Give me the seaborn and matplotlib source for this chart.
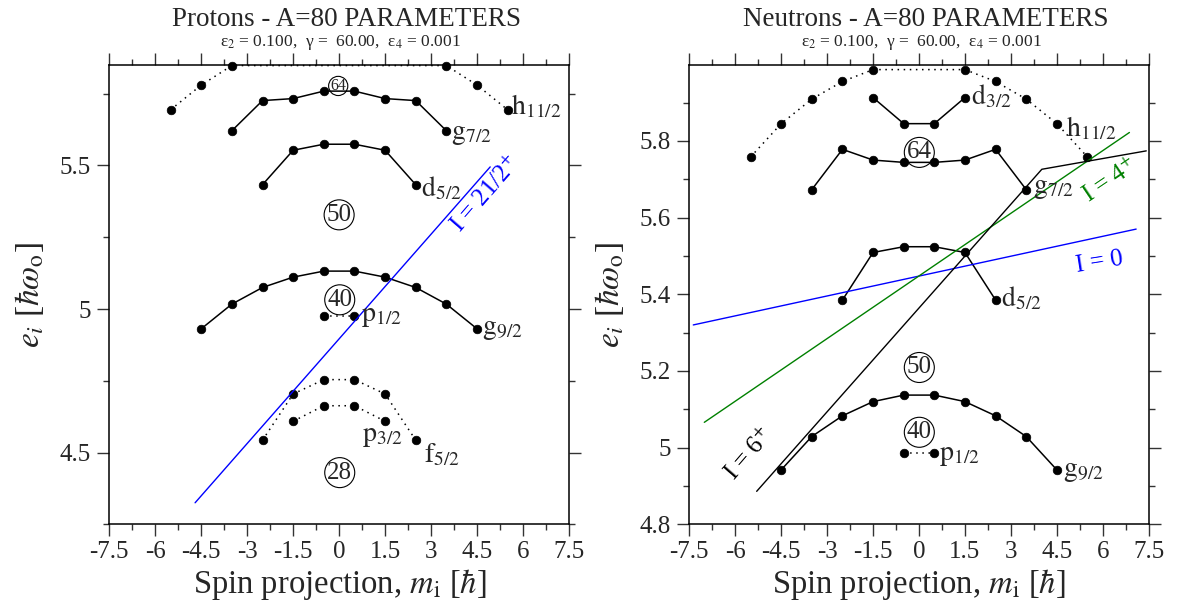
import numpy as np
import pandas as pd
import matplotlib
matplotlib.use("Agg")
import matplotlib.pyplot as plt
from matplotlib.ticker import FixedLocator, MultipleLocator
import seaborn as sns

# ---------------- data : protons ----------------
p_m_h11 = [-5.5, -4.5, -3.5, 3.5, 4.5, 5.5]
p_e_h11 = [5.694, 5.780, 5.848, 5.848, 5.780, 5.694]
p_m_g72 = [-3.5, -2.5, -1.5, -0.5, 0.5, 1.5, 2.5, 3.5]
p_e_g72 = [5.621, 5.726, 5.733, 5.759, 5.759, 5.733, 5.726, 5.621]
p_m_d52 = [-2.5, -1.5, -0.5, 0.5, 1.5, 2.5]
p_e_d52 = [5.433, 5.553, 5.574, 5.574, 5.553, 5.433]
p_m_g92 = [-4.5, -3.5, -2.5, -1.5, -0.5, 0.5, 1.5, 2.5, 3.5, 4.5]
p_e_g92 = [4.931, 5.017, 5.075, 5.111, 5.132, 5.132, 5.111, 5.075, 5.017, 4.931]
p_m_p12 = [-0.5, 0.5]
p_e_p12 = [4.977, 4.977]
p_m_p32 = [-1.5, -0.5, 0.5, 1.5]
p_e_p32 = [4.609, 4.663, 4.663, 4.609]
p_m_f52 = [-2.5, -1.5, -0.5, 0.5, 1.5, 2.5]
p_e_f52 = [4.543, 4.704, 4.754, 4.754, 4.704, 4.543]
p_m_I21 = [-4.70, 4.93]
p_e_I21 = [4.325, 5.495]

# ---------------- data : neutrons ----------------
n_m_h11 = [-5.5, -4.5, -3.5, -2.5, -1.5, 1.5, 2.5, 3.5, 4.5, 5.5]
n_e_h11 = [5.758, 5.845, 5.909, 5.955, 5.986, 5.986, 5.955, 5.909, 5.845, 5.758]
n_m_d32 = [-1.5, -0.5, 0.5, 1.5]
n_e_d32 = [5.913, 5.845, 5.845, 5.913]
n_m_g72 = [-3.5, -2.5, -1.5, -0.5, 0.5, 1.5, 2.5, 3.5]
n_e_g72 = [5.673, 5.778, 5.750, 5.744, 5.744, 5.750, 5.778, 5.673]
n_m_d52 = [-2.5, -1.5, -0.5, 0.5, 1.5, 2.5]
n_e_d52 = [5.385, 5.509, 5.524, 5.524, 5.509, 5.385]
n_m_g92 = [-4.5, -3.5, -2.5, -1.5, -0.5, 0.5, 1.5, 2.5, 3.5, 4.5]
n_e_g92 = [4.942, 5.029, 5.083, 5.120, 5.137, 5.137, 5.120, 5.083, 5.029, 4.942]
n_m_p12 = [-0.5, 0.5]
n_e_p12 = [4.985, 4.985]
n_m_I0 = [-7.37, 7.09]
n_e_I0 = [5.320, 5.570]
n_m_I4 = [-7.01, 6.87]
n_e_I4 = [5.066, 5.822]
n_m_I6 = [-5.30, 4.01, 7.42]
n_e_I6 = [4.886, 5.726, 5.774]

# ---------------- ticks / labels ----------------
x_ticks = [-7.5, -6, -4.5, -3, -1.5, 0, 1.5, 3, 4.5, 6, 7.5]
x_ticklabels = ["-7.5", "-6", "-4.5", "-3", "-1.5", "0", "1.5", "3", "4.5", "6", "7.5"]
p_y_ticks = [4.5, 5.0, 5.5]
p_y_ticklabels = ["4.5", "5", "5.5"]
n_y_ticks = [4.8, 5.0, 5.2, 5.4, 5.6, 5.8]
n_y_ticklabels = ["4.8", "5", "5.2", "5.4", "5.6", "5.8"]

sns.set_style("ticks")
plt.rcParams["font.family"] = ["Liberation Serif", "DejaVu Serif"]
plt.rcParams["mathtext.fontset"] = "stix"
plt.rcParams["axes.unicode_minus"] = False

fig = plt.figure(figsize=(11.78, 6.12), dpi=100)
axL = fig.add_axes([0.09278, 0.1433, 0.3902, 0.7505])
axR = fig.add_axes([0.58514, 0.1433, 0.3900, 0.7505])

DOT = (0, (1, 3))


def level(ax, m, e, ls):
    sns.lineplot(x=m, y=e, ax=ax, color="black", lw=1.1, linestyle=ls,
                 marker="o", markersize=6.2, markeredgecolor="black",
                 markeredgewidth=0.5, markerfacecolor="black",
                 clip_on=False, sort=False, estimator=None, legend=False)


def sline(ax, m, e, color):
    sns.lineplot(x=m, y=e, ax=ax, color=color, lw=1.0, sort=False,
                 estimator=None, legend=False)


def orb(ax, m, e, letter, sub, fs=20):
    ax.text(m, e, r"$\mathrm{%s}_{%s}$" % (letter, sub), ha="left",
            va="center", fontsize=fs)


def magic(ax, m, e, txt, fs=18):
    ax.text(m, e, txt, ha="center", va="center", fontsize=fs,
            bbox=dict(boxstyle="circle,pad=0.1", fc="none", ec="black", lw=0.8))


# ---- protons ----
level(axL, p_m_h11, p_e_h11, DOT)
level(axL, p_m_g72, p_e_g72, "-")
level(axL, p_m_d52, p_e_d52, "-")
level(axL, p_m_g92, p_e_g92, "-")
level(axL, p_m_p12, p_e_p12, DOT)
level(axL, p_m_p32, p_e_p32, DOT)
level(axL, p_m_f52, p_e_f52, DOT)
sline(axL, p_m_I21, p_e_I21, "#0000ff")

orb(axL, 5.62, 5.705, "h", "11/2")
orb(axL, 3.65, 5.608, "g", "7/2")
orb(axL, 2.66, 5.42, "d", "5/2")
orb(axL, 0.70, 4.975, "p", "1/2")
orb(axL, 4.66, 4.93, "g", "9/2")
orb(axL, 0.75, 4.555, "p", "3/2")
orb(axL, 2.76, 4.49, "f", "5/2")
magic(axL, -0.03, 5.777, "64", fs=11.5)
magic(axL, 0.0, 5.328, "50")
magic(axL, 0.02, 5.032, "40")
magic(axL, 0.02, 4.43, "28")
axL.text(4.78, 5.40, r"I = 21/2$^{+}$", color="#0000ff", fontsize=18,
         rotation=49, ha="center", va="center", rotation_mode="anchor")

# ---- neutrons ----
level(axR, n_m_h11, n_e_h11, DOT)
level(axR, n_m_d32, n_e_d32, "-")
level(axR, n_m_g72, n_e_g72, "-")
level(axR, n_m_d52, n_e_d52, "-")
level(axR, n_m_g92, n_e_g92, "-")
level(axR, n_m_p12, n_e_p12, DOT)
sline(axR, n_m_I0, n_e_I0, "#0000ff")
sline(axR, n_m_I4, n_e_I4, "#008000")
sline(axR, n_m_I6, n_e_I6, "black")

orb(axR, 1.69, 5.915, "d", "3/2")
orb(axR, 4.80, 5.832, "h", "11/2")
orb(axR, 3.71, 5.675, "g", "7/2")
orb(axR, 2.67, 5.389, "d", "5/2")
orb(axR, 0.66, 4.979, "p", "1/2")
orb(axR, 4.69, 4.938, "g", "9/2")
magic(axR, 0.01, 5.770, "64")
magic(axR, 0.01, 5.209, "50")
magic(axR, 0.01, 5.040, "40")
axR.text(5.91, 5.484, "I = 0", color="#0000ff", fontsize=18, rotation=9,
         ha="center", va="center", rotation_mode="anchor")
axR.text(6.24, 5.695, r"I = 4$^{+}$", color="#008000", fontsize=18,
         rotation=34, ha="center", va="center", rotation_mode="anchor")
axR.text(-5.52, 4.983, r"I = 6$^{+}$", color="black", fontsize=18,
         rotation=49, ha="center", va="center", rotation_mode="anchor")

# ---- axes styling ----
for ax, yt, ytl, ylim in ((axL, p_y_ticks, p_y_ticklabels, (4.25, 5.85)),
                          (axR, n_y_ticks, n_y_ticklabels, (4.8, 5.998))):
    ax.set_xlim(-7.5, 7.5)
    ax.set_ylim(*ylim)
    ax.xaxis.set_major_locator(FixedLocator(x_ticks))
    ax.set_xticklabels(x_ticklabels)
    ax.xaxis.set_minor_locator(MultipleLocator(0.75))
    ax.yaxis.set_major_locator(FixedLocator(yt))
    ax.set_yticklabels(ytl)
    ax.yaxis.set_minor_locator(MultipleLocator(0.25 if ax is axL else 0.1))
    ax.tick_params(which="both", direction="out", top=True, right=True,
                   width=1.0, color="#333333", labelsize=18)
    ax.tick_params(which="major", length=8.6)
    ax.tick_params(which="minor", length=4.3)
    ax.tick_params(axis="x", pad=3.5)
    ax.tick_params(axis="y", pad=4.5)
    ax.set_xlabel("")
    ax.set_ylabel("")
    for s in ax.spines.values():
        s.set_linewidth(1.1)
        s.set_color("black")
    ax.set_facecolor("white")

# ---- titles and axis labels ----
H = 612.0
W = 1178.0
for xc, xs, name in ((346.5, 340.8, "Protons - A=80 PARAMETERS"),
                     (925.8, 921.7, "Neutrons - A=80 PARAMETERS")):
    fig.text(xc / W, 1 - 26 / H, name, ha="center", va="baseline", fontsize=19.5)
    fig.text(xs / W, 1 - 46 / H,
             r"ε$_{2}$ = 0.100,  γ =  60.00,  ε$_{4}$ = 0.001",
             ha="center", va="baseline", fontsize=12.5)

for xc in (340.0, 919.0):
    fig.text(xc / W, 1 - 593 / H, r"Spin projection, $m_{\mathrm{i}}$ [$\hbar$]",
             ha="center", va="baseline", fontsize=23.5)
for xc in (30.0, 610.0):
    fig.text(xc / W, 1 - 295 / H, r"$e_{i}$ [$\hbar\omega_{\mathrm{o}}$]",
             ha="center", va="center", rotation=90, fontsize=24)

fig.savefig("out.png", dpi=100, facecolor="white")
